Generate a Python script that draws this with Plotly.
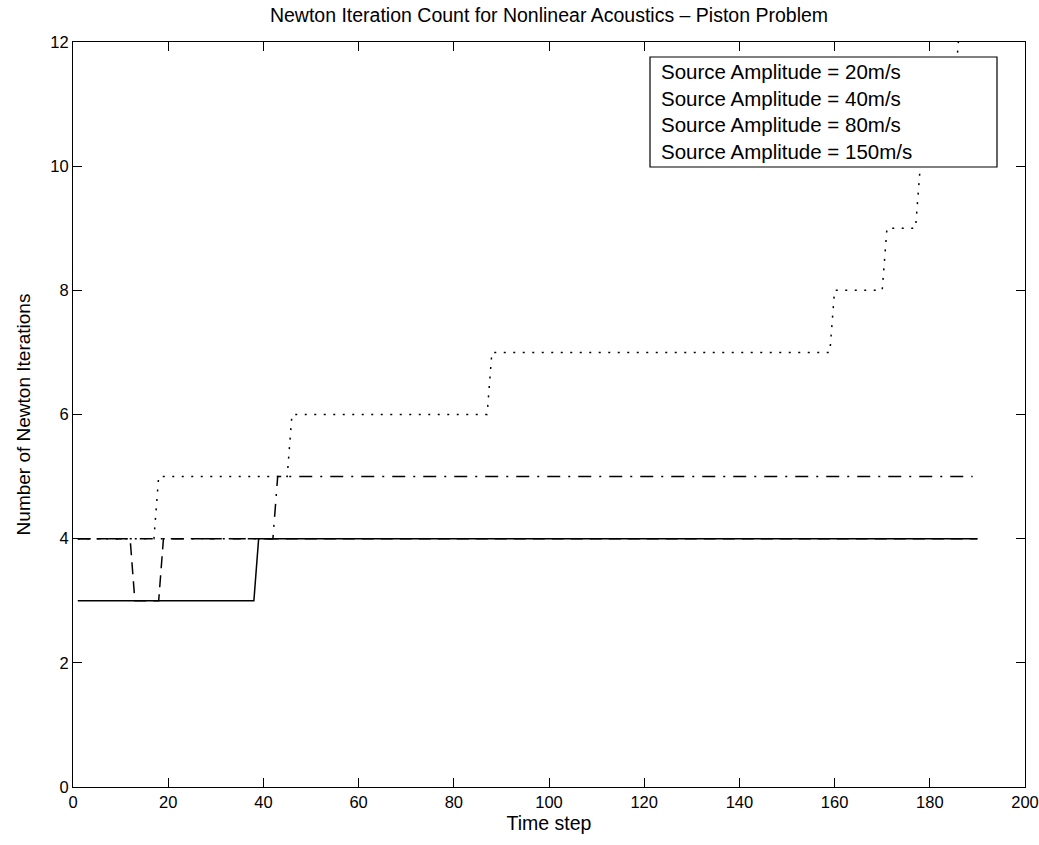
import plotly.graph_objects as go

# Series data (breakpoints)
amp20_x = [1, 38, 39, 190]
amp20_y = [3, 3, 4, 4]

amp40_x = [1, 12, 13, 18, 19, 190]
amp40_y = [4, 4, 3, 3, 4, 4]

amp80_x = [1, 17, 18, 45, 46, 87, 88, 159, 160, 170, 171, 177, 178, 181, 182, 185, 186]
amp80_y = [4, 4, 5, 5, 6, 6, 7, 7, 8, 8, 9, 9, 10, 10, 11, 11, 12]

amp150_x = [1, 42, 43, 189]
amp150_y = [4, 4, 5, 5]

legend_labels = [
    "Source Amplitude = 20m/s",
    "Source Amplitude = 40m/s",
    "Source Amplitude = 80m/s",
    "Source Amplitude = 150m/s",
]

x_ticks = list(range(0, 201, 20))
y_ticks = list(range(0, 13, 2))

FONT = "Liberation Sans, Arial, Helvetica, sans-serif"

# plot area geometry in pixels
L, R, T, B = 73, 14, 42, 58
W, H = 1039, 845
PW, PH = W - L - R, H - T - B


def px_x(p):
    return (p - L) / PW


def px_y(p):
    return 1 - (p - T) / PH


fig = go.Figure()
fig.add_trace(go.Scatter(x=amp20_x, y=amp20_y, mode="lines", name=legend_labels[0],
                         line=dict(color="black", width=1.5)))
fig.add_trace(go.Scatter(x=amp40_x, y=amp40_y, mode="lines", name=legend_labels[1],
                         line=dict(color="black", width=1.5, dash="12px,7px")))
fig.add_trace(go.Scatter(x=amp80_x, y=amp80_y, mode="lines", name=legend_labels[2],
                         line=dict(color="black", width=1.5, dash="2px,7.5px")))
fig.add_trace(go.Scatter(x=amp150_x, y=amp150_y, mode="lines", name=legend_labels[3],
                         line=dict(color="black", width=1.5, dash="13px,8px,2px,8px")))

# MATLAB-style legend: opaque white box + text
fig.add_shape(type="rect", xref="paper", yref="paper",
              x0=px_x(650), x1=px_x(997), y0=px_y(167), y1=px_y(57),
              fillcolor="white", line=dict(color="black", width=1.2), layer="above")
fig.add_annotation(
    xref="paper", yref="paper", x=px_x(659), y=px_y(112),
    xanchor="left", yanchor="middle",
    text="<br>".join(legend_labels),
    align="left", showarrow=False,
    font=dict(family=FONT, size=20.5, color="black"),
)

axis_common = dict(
    showgrid=False, zeroline=False, showline=True, linecolor="black", linewidth=1,
    mirror="ticks", ticks="inside", ticklen=9, tickcolor="black", tickwidth=1,
    tickfont=dict(family=FONT, size=16.5, color="black"),
    ticklabeloverflow="allow", automargin=False,
)

fig.update_layout(
    width=W, height=H,
    margin=dict(l=L, r=R, t=T, b=B, autoexpand=False),
    paper_bgcolor="white", plot_bgcolor="white",
    showlegend=False,
    title=dict(text="Newton Iteration Count for Nonlinear Acoustics \u2013 Piston Problem",
               x=(L + PW / 2) / W, xanchor="center", y=1 - 15 / H, yanchor="middle",
               font=dict(family=FONT, size=19.5, color="black")),
    xaxis=dict(range=[0, 200], tickvals=x_ticks, ticktext=[str(v) for v in x_ticks],
               title=dict(text="Time step", font=dict(family=FONT, size=19.5, color="black"),
                          standoff=6),
               **axis_common),
    yaxis=dict(range=[0, 12], tickvals=y_ticks, ticktext=[str(v) for v in y_ticks],
               title=dict(text="Number of Newton Iterations",
                          font=dict(family=FONT, size=19, color="black"), standoff=14),
               **axis_common),
)

fig.write_html("out.html")
